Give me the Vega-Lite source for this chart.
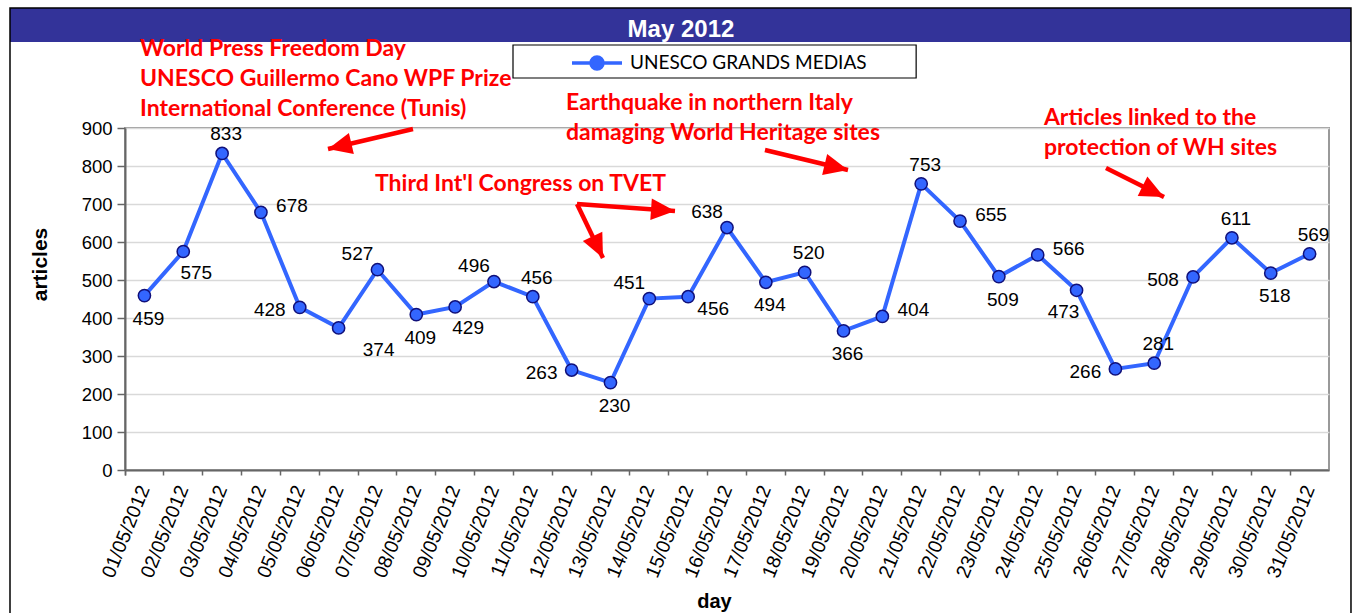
{
  "$schema": "https://vega.github.io/schema/vega-lite/v6.json",
  "autosize": {"type": "none"},
  "width": 1204,
  "height": 342,
  "padding": {"left": 125, "top": 128, "right": 32, "bottom": 143},
  "background": "white",
  "config": {
    "view": {"stroke": "#999999", "strokeWidth": 2},
    "font": "Liberation Sans"
  },
  "datasets": {
    "main": [
      {"day": "01/05/2012", "articles": 459},
      {"day": "02/05/2012", "articles": 575},
      {"day": "03/05/2012", "articles": 833},
      {"day": "04/05/2012", "articles": 678},
      {"day": "05/05/2012", "articles": 428},
      {"day": "06/05/2012", "articles": 374},
      {"day": "07/05/2012", "articles": 527},
      {"day": "08/05/2012", "articles": 409},
      {"day": "09/05/2012", "articles": 429},
      {"day": "10/05/2012", "articles": 496},
      {"day": "11/05/2012", "articles": 456},
      {"day": "12/05/2012", "articles": 263},
      {"day": "13/05/2012", "articles": 230},
      {"day": "14/05/2012", "articles": 451},
      {"day": "15/05/2012", "articles": 456},
      {"day": "16/05/2012", "articles": 638},
      {"day": "17/05/2012", "articles": 494},
      {"day": "18/05/2012", "articles": 520},
      {"day": "19/05/2012", "articles": 366},
      {"day": "20/05/2012", "articles": 404},
      {"day": "21/05/2012", "articles": 753},
      {"day": "22/05/2012", "articles": 655},
      {"day": "23/05/2012", "articles": 509},
      {"day": "24/05/2012", "articles": 566},
      {"day": "25/05/2012", "articles": 473},
      {"day": "26/05/2012", "articles": 266},
      {"day": "27/05/2012", "articles": 281},
      {"day": "28/05/2012", "articles": 508},
      {"day": "29/05/2012", "articles": 611},
      {"day": "30/05/2012", "articles": 518},
      {"day": "31/05/2012", "articles": 569}
    ],
    "notes": [
      {"label": ["World Press Freedom Day", "UNESCO Guillermo Cano WPF Prize", "International Conference (Tunis)"], "d": 0.886, "v": 1089.5},
      {"label": ["Earthquake in northern  Italy", "damaging World Heritage sites"], "d": 11.854, "v": 947.4},
      {"label": ["Articles linked to the", "protection of WH sites"], "d": 24.16, "v": 907.9},
      {"label": ["Third Int'l Congress on TVET"], "d": 6.937, "v": 734.2}
    ],
    "arrows": [
      {"arrow": "wpfd", "d1": 7.915, "v1": 897.4, "d2": 5.727, "v2": 844.7},
      {"arrow": "tvet1", "d1": 12.138, "v1": 700.0, "d2": 14.661, "v2": 681.6},
      {"arrow": "tvet2", "d1": 12.138, "v1": 700.0, "d2": 12.807, "v2": 557.9},
      {"arrow": "quake", "d1": 16.978, "v1": 842.1, "d2": 19.115, "v2": 789.5},
      {"arrow": "wh", "d1": 25.758, "v1": 794.7, "d2": 27.251, "v2": 718.4}
    ]
  },
  "layer": [
    {
      "data": {"name": "main"},
      "encoding": {
        "x": {
          "field": "day", "type": "nominal", "sort": null,
          "scale": {"type": "band", "paddingInner": 0, "paddingOuter": 0},
          "axis": {
            "title": "day", "bandPosition": 0, "tickExtra": true,
            "labelAngle": -68, "labelAlign": "right", "labelBaseline": "middle",
            "labelFont": "Liberation Sans", "labelFontSize": 19.5, "labelColor": "#000000",
            "labelPadding": 11, "labelOverlap": false,
            "tickSize": 5, "tickColor": "#666666", "tickWidth": 1.5,
            "domainColor": "#666666", "domainWidth": 2, "grid": false,
            "titleFont": "Liberation Sans", "titleFontSize": 20, "titleFontWeight": "bold",
            "titleColor": "#000000", "titleX": 589, "titleY": 137, "titleAlign": "center", "titleBaseline": "alphabetic"
          }
        },
        "y": {
          "field": "articles", "type": "quantitative",
          "scale": {"domain": [0, 900], "nice": false, "zero": true},
          "axis": {
            "title": "articles", "values": [0, 100, 200, 300, 400, 500, 600, 700, 800, 900],
            "grid": true, "gridColor": "#d9d9d9", "gridWidth": 1.5,
            "labelFont": "Liberation Sans", "labelFontSize": 18.5, "labelColor": "#000000",
            "labelPadding": 5, "tickSize": 8, "tickColor": "#666666", "tickWidth": 1.5,
            "domainColor": "#666666", "domainWidth": 2,
            "titleFont": "Liberation Sans", "titleFontSize": 21, "titleFontWeight": "bold",
            "titleColor": "#000000", "titleX": -79, "titleY": 136, "titleBaseline": "alphabetic"
          }
        }
      },
      "layer": [
        {
          "mark": {"type": "line", "strokeWidth": 4},
          "encoding": {
            "color": {
              "datum": "UNESCO GRANDS MEDIAS", "type": "nominal",
              "scale": {"range": ["#3366ff"]},
              "legend": {
                "title": null, "orient": "none", "legendX": 445, "legendY": -92,
                "padding": 0, "symbolType": "M-1,0L-0.24,0M0.24,0L1,0M0.24,0A0.24,0.24,0,1,1,-0.24,0A0.24,0.24,0,1,1,0.24,0Z",
                "symbolSize": 2500, "symbolStrokeWidth": 3.5,
                "labelFont": "Lato", "labelFontSize": 19, "labelColor": "#000000", "labelOffset": 6,
                "labelLimit": 400,
                "encode": {"symbols": {"update": {"fill": {"value": "#3366ff"}, "stroke": {"value": "#3366ff"}, "fillOpacity": {"value": 1}, "opacity": {"value": 1}}}}
              }
            }
          }
        },
        {
          "mark": {"type": "point", "filled": true, "size": 150, "fill": "#3366ff", "stroke": "#10107a", "strokeWidth": 1.5, "opacity": 1}
        },
        {
          "transform": [{"filter": {"field": "day", "oneOf": ["03/05/2012", "11/05/2012", "18/05/2012", "21/05/2012", "27/05/2012", "29/05/2012", "31/05/2012"]}}],
          "mark": {"type": "text", "dx": 4, "dy": -19, "fontSize": 19, "font": "Liberation Sans", "color": "#000000", "baseline": "middle"},
          "encoding": {"text": {"field": "articles", "type": "quantitative"}}
        },
        {
          "transform": [{"filter": {"field": "day", "oneOf": ["01/05/2012", "08/05/2012", "13/05/2012", "17/05/2012", "19/05/2012", "23/05/2012", "30/05/2012"]}}],
          "mark": {"type": "text", "dx": 4, "dy": 23, "fontSize": 19, "font": "Liberation Sans", "color": "#000000", "baseline": "middle"},
          "encoding": {"text": {"field": "articles", "type": "quantitative"}}
        },
        {
          "transform": [{"filter": {"field": "day", "oneOf": ["02/05/2012", "09/05/2012"]}}],
          "mark": {"type": "text", "dx": 13, "dy": 21, "fontSize": 19, "font": "Liberation Sans", "color": "#000000", "baseline": "middle"},
          "encoding": {"text": {"field": "articles", "type": "quantitative"}}
        },
        {
          "transform": [{"filter": {"field": "day", "oneOf": ["06/05/2012"]}}],
          "mark": {"type": "text", "dx": 40, "dy": 22, "fontSize": 19, "font": "Liberation Sans", "color": "#000000", "baseline": "middle"},
          "encoding": {"text": {"field": "articles", "type": "quantitative"}}
        },
        {
          "transform": [{"filter": {"field": "day", "oneOf": ["15/05/2012"]}}],
          "mark": {"type": "text", "dx": 25, "dy": 12, "fontSize": 19, "font": "Liberation Sans", "color": "#000000", "baseline": "middle"},
          "encoding": {"text": {"field": "articles", "type": "quantitative"}}
        },
        {
          "transform": [{"filter": {"field": "day", "oneOf": ["04/05/2012", "20/05/2012", "22/05/2012", "24/05/2012"]}}],
          "mark": {"type": "text", "dx": 31, "dy": -6, "fontSize": 19, "font": "Liberation Sans", "color": "#000000", "baseline": "middle"},
          "encoding": {"text": {"field": "articles", "type": "quantitative"}}
        },
        {
          "transform": [{"filter": {"field": "day", "oneOf": ["05/05/2012", "12/05/2012", "26/05/2012", "28/05/2012"]}}],
          "mark": {"type": "text", "dx": -30, "dy": 3, "fontSize": 19, "font": "Liberation Sans", "color": "#000000", "baseline": "middle"},
          "encoding": {"text": {"field": "articles", "type": "quantitative"}}
        },
        {
          "transform": [{"filter": {"field": "day", "oneOf": ["07/05/2012", "10/05/2012", "14/05/2012", "16/05/2012"]}}],
          "mark": {"type": "text", "dx": -20, "dy": -16, "fontSize": 19, "font": "Liberation Sans", "color": "#000000", "baseline": "middle"},
          "encoding": {"text": {"field": "articles", "type": "quantitative"}}
        },
        {
          "transform": [{"filter": {"field": "day", "oneOf": ["25/05/2012"]}}],
          "mark": {"type": "text", "dx": -13, "dy": 22, "fontSize": 19, "font": "Liberation Sans", "color": "#000000", "baseline": "middle"},
          "encoding": {"text": {"field": "articles", "type": "quantitative"}}
        }
      ]
    },
    {
      "layer": [
        {
          "data": {"values": [{}]},
          "mark": {"type": "rect", "fill": "#333399", "stroke": null},
          "encoding": {
            "x": {"datum": -2.461, "type": "quantitative", "scale": {"domain": [0.5, 31.5], "nice": false, "zero": false}, "axis": null},
            "x2": {"datum": 32.066},
            "y": {"datum": 1215.8, "type": "quantitative", "scale": {"domain": [0, 900], "nice": false}, "axis": null},
            "y2": {"datum": 1126.3}
          }
        },
        {
          "data": {"values": [{}]},
          "mark": {"type": "rect", "fill": null, "filled": false, "stroke": "#000000", "strokeWidth": 1.5},
          "encoding": {
            "x": {"datum": -2.461, "type": "quantitative", "scale": {"domain": [0.5, 31.5], "nice": false, "zero": false}, "axis": null},
            "x2": {"datum": 32.066},
            "y": {"datum": 1215.8, "type": "quantitative", "scale": {"domain": [0, 900], "nice": false}, "axis": null},
            "y2": {"datum": -450}
          }
        },
        {
          "data": {"values": [{}]},
          "mark": {"type": "rect", "fill": "#ffffff", "stroke": "#000000", "strokeWidth": 1.2},
          "encoding": {
            "x": {"datum": 10.49, "type": "quantitative", "scale": {"domain": [0.5, 31.5], "nice": false, "zero": false}, "axis": null},
            "x2": {"datum": 20.87},
            "y": {"datum": 1118.4, "type": "quantitative", "scale": {"domain": [0, 900], "nice": false}, "axis": null},
            "y2": {"datum": 1031.6}
          }
        },
        {
          "data": {"values": [{"title": "May 2012"}]},
          "mark": {"type": "text", "font": "Liberation Sans", "fontSize": 24, "fontWeight": "bold", "color": "#ffffff", "align": "center", "baseline": "alphabetic"},
          "encoding": {
            "x": {"datum": 14.815, "type": "quantitative", "scale": {"domain": [0.5, 31.5], "nice": false, "zero": false}, "axis": null},
            "y": {"datum": 1139, "type": "quantitative", "scale": {"domain": [0, 900], "nice": false}, "axis": null},
            "text": {"field": "title", "type": "nominal"}
          }
        },
        {
          "data": {"name": "notes"},
          "mark": {"type": "text", "font": "Lato", "fontSize": 23, "fontWeight": "bold", "color": "#ff0000", "align": "left", "baseline": "alphabetic", "lineHeight": 30},
          "encoding": {
            "x": {"field": "d", "type": "quantitative", "scale": {"domain": [0.5, 31.5], "nice": false, "zero": false}, "axis": null},
            "y": {"field": "v", "type": "quantitative", "scale": {"domain": [0, 900], "nice": false}, "axis": null},
            "text": {"field": "label"}
          }
        },
        {
          "data": {"name": "arrows"},
          "mark": {"type": "rule", "color": "#ff0000", "strokeWidth": 4.5},
          "encoding": {
            "x": {"field": "d1", "type": "quantitative", "scale": {"domain": [0.5, 31.5], "nice": false, "zero": false}, "axis": null},
            "x2": {"field": "d2"},
            "y": {"field": "v1", "type": "quantitative", "scale": {"domain": [0, 900], "nice": false}, "axis": null},
            "y2": {"field": "v2"}
          }
        },
        {
          "data": {"name": "arrows"},
          "transform": [{"filter": {"field": "arrow", "equal": "wpfd"}}],
          "mark": {"type": "point", "shape": "M0,0L-1,-0.45L-1,0.45Z", "size": 2304, "angle": 166.8, "filled": true, "color": "#ff0000", "opacity": 1, "strokeWidth": 0},
          "encoding": {
            "x": {"field": "d2", "type": "quantitative", "scale": {"domain": [0.5, 31.5], "nice": false, "zero": false}, "axis": null},
            "y": {"field": "v2", "type": "quantitative", "scale": {"domain": [0, 900], "nice": false}, "axis": null}
          }
        },
        {
          "data": {"name": "arrows"},
          "transform": [{"filter": {"field": "arrow", "equal": "tvet1"}}],
          "mark": {"type": "point", "shape": "M0,0L-1,-0.45L-1,0.45Z", "size": 2304, "angle": 4.1, "filled": true, "color": "#ff0000", "opacity": 1, "strokeWidth": 0},
          "encoding": {
            "x": {"field": "d2", "type": "quantitative", "scale": {"domain": [0.5, 31.5], "nice": false, "zero": false}, "axis": null},
            "y": {"field": "v2", "type": "quantitative", "scale": {"domain": [0, 900], "nice": false}, "axis": null}
          }
        },
        {
          "data": {"name": "arrows"},
          "transform": [{"filter": {"field": "arrow", "equal": "tvet2"}}],
          "mark": {"type": "point", "shape": "M0,0L-1,-0.45L-1,0.45Z", "size": 2304, "angle": 64.3, "filled": true, "color": "#ff0000", "opacity": 1, "strokeWidth": 0},
          "encoding": {
            "x": {"field": "d2", "type": "quantitative", "scale": {"domain": [0.5, 31.5], "nice": false, "zero": false}, "axis": null},
            "y": {"field": "v2", "type": "quantitative", "scale": {"domain": [0, 900], "nice": false}, "axis": null}
          }
        },
        {
          "data": {"name": "arrows"},
          "transform": [{"filter": {"field": "arrow", "equal": "quake"}}],
          "mark": {"type": "point", "shape": "M0,0L-1,-0.45L-1,0.45Z", "size": 2304, "angle": 13.5, "filled": true, "color": "#ff0000", "opacity": 1, "strokeWidth": 0},
          "encoding": {
            "x": {"field": "d2", "type": "quantitative", "scale": {"domain": [0.5, 31.5], "nice": false, "zero": false}, "axis": null},
            "y": {"field": "v2", "type": "quantitative", "scale": {"domain": [0, 900], "nice": false}, "axis": null}
          }
        },
        {
          "data": {"name": "arrows"},
          "transform": [{"filter": {"field": "arrow", "equal": "wh"}}],
          "mark": {"type": "point", "shape": "M0,0L-1,-0.45L-1,0.45Z", "size": 2304, "angle": 26.6, "filled": true, "color": "#ff0000", "opacity": 1, "strokeWidth": 0},
          "encoding": {
            "x": {"field": "d2", "type": "quantitative", "scale": {"domain": [0.5, 31.5], "nice": false, "zero": false}, "axis": null},
            "y": {"field": "v2", "type": "quantitative", "scale": {"domain": [0, 900], "nice": false}, "axis": null}
          }
        }
      ]
    }
  ],
  "resolve": {"scale": {"x": "independent", "y": "independent"}, "axis": {"x": "independent", "y": "independent"}}
}
